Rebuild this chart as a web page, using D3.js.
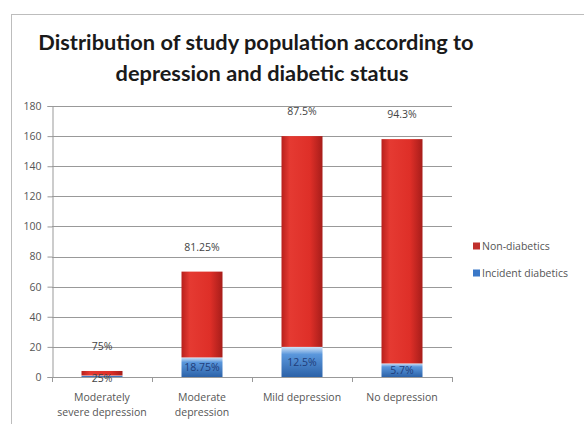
<!DOCTYPE html>
<html>
<head>
<meta charset="utf-8">
<script src="https://cdn.jsdelivr.net/npm/d3@7"></script>
<style>
  body { margin: 0; background: #fff; }
  text { font-family: "Open Sans", "DejaVu Sans", sans-serif; }
</style>
</head>
<body>
<svg id="chart" width="584" height="424"></svg>
<script>
const categories = [["Moderately", "severe depression"], ["Moderate", "depression"], ["Mild depression"], ["No depression"]];
const incident = [1, 13, 20, 9];
const nonDiabetic = [3, 57, 140, 149];
const incidentLabels = ["25%", "18.75%", "12.5%", "5.7%"];
const nonLabels = ["75%", "81.25%", "87.5%", "94.3%"];
const yTicks = [0, 20, 40, 60, 80, 100, 120, 140, 160, 180];
const legendItems = ["Non-diabetics", "Incident diabetics"];

const svg = d3.select("#chart");

// chart frame
svg.append("rect")
  .attr("x", 11.5).attr("y", 14.5)
  .attr("width", 600).attr("height", 430)
  .attr("fill", "#fff").attr("stroke", "#bdbdbd");

const defs = svg.append("defs");
const red = defs.append("linearGradient").attr("id", "red").attr("x1", "0%").attr("x2", "100%");
[["0%", "#b8201c"], ["20%", "#e53a32"], ["70%", "#de2f28"], ["100%", "#a71d1a"]].forEach(([o, c]) =>
  red.append("stop").attr("offset", o).attr("stop-color", c));
const blue = defs.append("linearGradient").attr("id", "blue").attr("x1", "0%").attr("x2", "0%").attr("y1", "0%").attr("y2", "100%");
[["0%", "#d2e3f6"], ["25%", "#5a97dc"], ["100%", "#2c62a8"]].forEach(([o, c]) =>
  blue.append("stop").attr("offset", o).attr("stop-color", c));

const plotLeft = 52, plotRight = 452, plotTop = 106, plotBottom = 377;
const fs = "10.5px";

const x = d3.scaleBand().domain(d3.range(categories.length)).range([plotLeft, plotRight]).paddingInner(0.59).paddingOuter(0.295);
const y = d3.scaleLinear().domain([0, 180]).range([plotBottom, plotTop]);

// title
svg.append("text").attr("x", 256).attr("y", 50).attr("text-anchor", "middle")
  .style("font-family", "Lato, sans-serif").style("font-weight", "bold").style("font-size", "21.8px").attr("fill", "#1a1a1a")
  .text("Distribution of study population according to");
svg.append("text").attr("x", 262).attr("y", 81).attr("text-anchor", "middle")
  .style("font-family", "Lato, sans-serif").style("font-weight", "bold").style("font-size", "21.8px").attr("fill", "#1a1a1a")
  .text("depression and diabetic status");

// gridlines
svg.append("g").selectAll("line").data(yTicks.slice(1)).join("line")
  .attr("x1", plotLeft).attr("x2", plotRight)
  .attr("y1", d => Math.round(y(d)) + 0.5).attr("y2", d => Math.round(y(d)) + 0.5)
  .attr("stroke", "#999");

// y axis
const yAxis = d3.axisLeft(y).tickValues(yTicks).tickSize(5).tickPadding(6);
const gy = svg.append("g").attr("transform", `translate(${plotLeft + 0.5},0)`).call(yAxis);
gy.select(".domain").attr("stroke", "#999");
gy.selectAll(".tick line").attr("stroke", "#999");
gy.selectAll(".tick text").attr("fill", "#555").style("font-size", fs).style("font-family", "'Open Sans', sans-serif");

// bars
const bars = svg.append("g");
bars.selectAll(".inc").data(incident).join("rect").attr("class", "inc")
  .attr("x", (d, i) => x(i)).attr("width", x.bandwidth())
  .attr("y", d => y(d)).attr("height", d => y(0) - y(d))
  .attr("fill", "url(#blue)");
bars.selectAll(".non").data(nonDiabetic).join("rect").attr("class", "non")
  .attr("x", (d, i) => x(i)).attr("width", x.bandwidth())
  .attr("y", (d, i) => y(d + incident[i])).attr("height", d => y(0) - y(d))
  .attr("fill", "url(#red)");

// x axis
svg.append("line").attr("x1", plotLeft).attr("x2", plotRight).attr("y1", plotBottom + 0.5).attr("y2", plotBottom + 0.5).attr("stroke", "#999");
svg.append("g").selectAll("line").data(d3.range(categories.length + 1)).join("line")
  .attr("x1", i => plotLeft + i * x.step() + 0.5).attr("x2", i => plotLeft + i * x.step() + 0.5)
  .attr("y1", plotBottom).attr("y2", plotBottom + 5).attr("stroke", "#999");

const xl = svg.append("g").selectAll("text").data(categories).join("text")
  .attr("x", (d, i) => x(i) + x.bandwidth() / 2).attr("y", 401)
  .attr("text-anchor", "middle").attr("fill", "#555").style("font-size", fs);
xl.selectAll("tspan").data(d => d).join("tspan")
  .attr("x", function () { return this.parentNode.getAttribute("x"); })
  .attr("dy", (d, j) => j === 0 ? 0 : 15).text(d => d);

// value labels
svg.append("g").selectAll("text").data(nonLabels).join("text")
  .attr("x", (d, i) => x(i) + x.bandwidth() / 2)
  .attr("y", (d, i) => y(nonDiabetic[i] + incident[i]) - 21)
  .attr("text-anchor", "middle").attr("fill", "#444").style("font-size", fs)
  .text(d => d);
svg.append("g").selectAll("text").data(incidentLabels).join("text")
  .attr("x", (d, i) => x(i) + x.bandwidth() / 2)
  .attr("y", (d, i) => i === 0 ? y(0) + 5 : y(incident[i] / 2) + 4)
  .attr("text-anchor", "middle").attr("fill", (d, i) => i === 0 ? "#444" : "#1f3d7a").style("font-size", fs)
  .text(d => d);

// legend
const legendColors = ["#c0302c", "#3a78c8"];
const lg = svg.append("g").selectAll("g").data(legendItems).join("g")
  .attr("transform", (d, i) => `translate(473,${246 + i * 27})`);
lg.append("rect").attr("x", 0).attr("y", -3.5).attr("width", 7).attr("height", 7)
  .attr("fill", (d, i) => legendColors[i]);
lg.append("text").attr("x", 9).attr("y", 4).attr("fill", "#555").style("font-size", fs).text(d => d);
</script>
</body>
</html>
